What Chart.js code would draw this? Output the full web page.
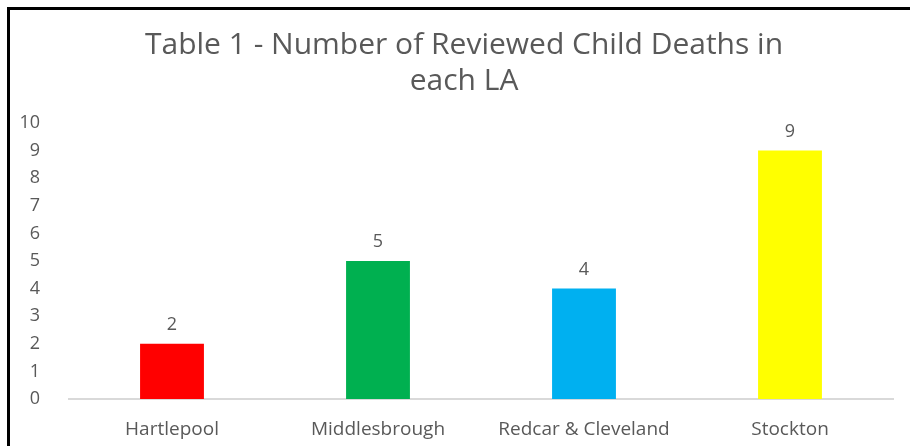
<!DOCTYPE html>
<html>
<head>
<meta charset="utf-8">
<script src="https://cdn.jsdelivr.net/npm/chart.js@4"></script>
<style>
  html, body { margin: 0; padding: 0; background: #fff; }
  #wrap { position: relative; width: 910px; height: 446px; overflow: hidden; }
  #frame { position: absolute; left: 7px; top: 7px; width: 960px; height: 500px;
           border-left: 3px solid #000; border-top: 3px solid #000; }
  canvas { position: absolute; left: 0; top: 0; }
</style>
</head>
<body>
<div id="wrap">
  <div id="frame"></div>
  <canvas id="bar-chart" width="910" height="446"></canvas>
</div>
<script>
// LA child deaths
const areas = ['Hartlepool', 'Middlesbrough', 'Redcar & Cleveland', 'Stockton'];
const deaths = [2, 5, 4, 9];
const barColors = ['#ff0000', '#00b050', '#00b0f0', '#ffff00'];
const yTicks = [0, 1, 2, 3, 4, 5, 6, 7, 8, 9, 10];
const titleLines = ['Table 1 - Number of Reviewed Child Deaths in', 'each LA'];

const textGrey = '#595959';
const fontName = '"Open Sans", sans-serif';

// title drawn by hand so the plot area top stays fixed
const titlePlugin = {
  id: 'titleText',
  afterDraw(chart) {
    const ctx = chart.ctx;
    ctx.save();
    ctx.fillStyle = textGrey;
    ctx.font = '30px ' + fontName;
    ctx.textAlign = 'center';
    ctx.textBaseline = 'middle';
    titleLines.forEach((line, i) => ctx.fillText(line, 464, 45 + i * 36));
    ctx.restore();
  }
};

// value above each bar
const valueLabels = {
  id: 'valueLabels',
  afterDatasetsDraw(chart) {
    const ctx = chart.ctx;
    const meta = chart.getDatasetMeta(0);
    ctx.save();
    ctx.fillStyle = textGrey;
    ctx.font = '18px ' + fontName;
    ctx.textAlign = 'center';
    ctx.textBaseline = 'middle';
    meta.data.forEach((bar, i) => {
      ctx.fillText(String(chart.data.datasets[0].data[i]), bar.x, bar.y - 19);
    });
    ctx.restore();
  }
};

const barConfig = {
  type: 'bar',
  data: {
    labels: areas,
    datasets: [
      {
        label: 'Reviewed child deaths',
        data: deaths,
        backgroundColor: barColors,
        borderWidth: 0,
        categoryPercentage: 1,
        barPercentage: 0.31,
      },
    ],
  },
  options: {
    responsive: false,
    animation: false,
    layout: { padding: { top: 123, right: 17, bottom: 0, left: 0 } },
    plugins: {
      legend: { display: false },
      title: { display: false },
      tooltip: { enabled: false },
    },
    scales: {
      x: {
        grid: { display: false },
        border: { display: true, color: '#d9d9d9', width: 2 },
        ticks: { color: textGrey, font: { family: fontName, size: 19 }, padding: 11 },
        afterFit(scale) { scale.height = 47; },
      },
      y: {
        min: 0,
        max: 10,
        grid: { display: false },
        border: { display: false },
        afterBuildTicks(scale) { scale.ticks = yTicks.map(v => ({ value: v })); },
        ticks: { color: textGrey, font: { family: fontName, size: 18 }, padding: 21 },
        afterFit(scale) { scale.width = 69; },
      },
    },
  },
  plugins: [titlePlugin, valueLabels],
};

new Chart(document.querySelector('#bar-chart'), barConfig);
</script>
</body>
</html>
